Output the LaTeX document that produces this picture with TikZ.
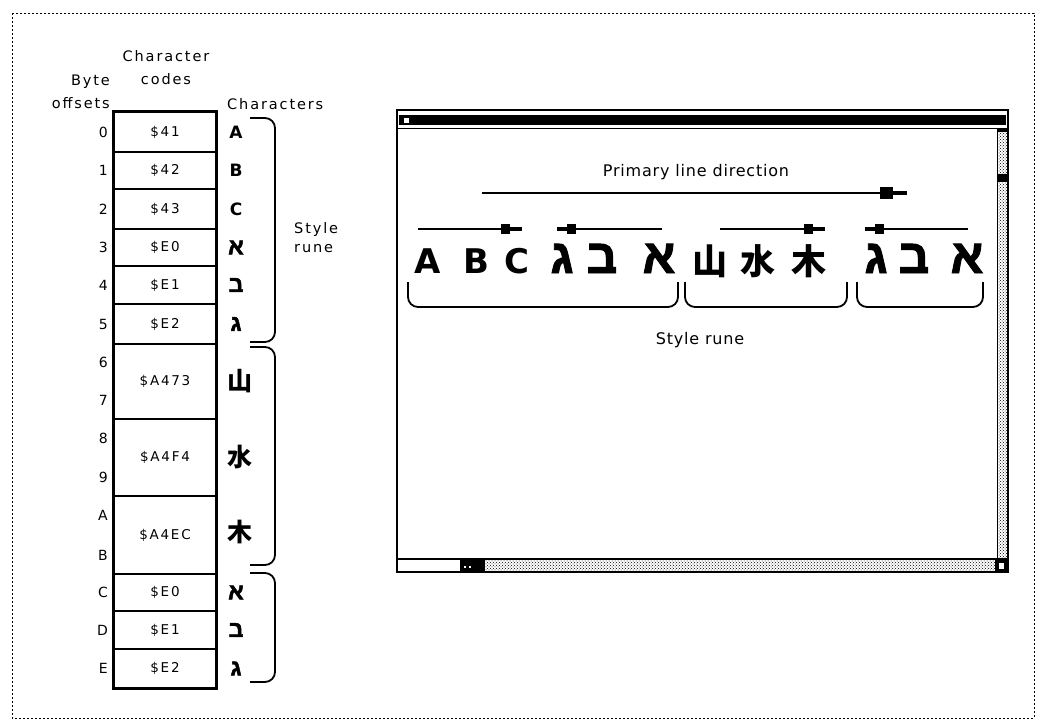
\documentclass[tikz,border=0pt]{standalone}
\usepackage{fontspec}
\setmainfont{DejaVu Sans}[LetterSpace=5]
\newfontfamily\widesans{DejaVu Sans}[LetterSpace=13]
\newfontfamily\plainsans{DejaVu Sans}
\newfontfamily\heb{Liberation Sans Bold}[Script=Hebrew, FakeBold=2]
\newfontfamily\cjk{Noto Sans CJK SC}
\usetikzlibrary{arrows.meta,patterns}
\tikzset{
  cell/.style={draw, line width=1.4pt, minimum width=102pt, inner sep=0pt, font=\widesans\fontsize{13.5}{15}\selectfont},
  offs/.style={anchor=east, inner sep=0pt, font=\widesans\fontsize{14}{16}\selectfont},
  lbl/.style={inner sep=0pt, font=\widesans\fontsize{14.5}{23}\selectfont},
  chlat/.style={inner sep=0pt, font=\plainsans\bfseries\fontsize{17}{17}\selectfont},
  chheb/.style={inner sep=0pt, font=\heb\fontsize{23}{23}\selectfont},
  chcjk/.style={inner sep=0pt, font=\cjk\bfseries\fontsize{25}{25}\selectfont},
  biglat/.style={anchor=base, inner sep=0pt, font=\plainsans\bfseries\fontsize{34}{34}\selectfont},
  bigheb/.style={anchor=base, inner sep=0pt, font=\heb\fontsize{48}{48}\selectfont},
  bigcjk/.style={anchor=base, inner sep=0pt, font=\cjk\bfseries\fontsize{35}{35}\selectfont},
  winlbl/.style={inner sep=0pt, font=\fontsize{16}{18}\selectfont},
  bracket/.style={line width=1.8pt, rounded corners=10pt},
  rarrow/.style={line width=1.8pt, -{Rectangle[length=9pt,width=10pt,sep=0pt]Rectangle[length=12pt,width=4pt,sep=0pt]}},
  larrow/.style={line width=1.8pt, {Rectangle[length=10pt,width=4pt,sep=0pt]Rectangle[length=9pt,width=10pt,sep=0pt]}-},
  longarrow/.style={line width=1.8pt, -{Rectangle[length=13pt,width=12pt,sep=0pt]Rectangle[length=14pt,width=4pt,sep=0pt]}},
}
\begin{document}
\begin{tikzpicture}[x=1pt,y=-1pt]
\useasboundingbox (0,0) rectangle (1037,720);
% outer dashed frame
\draw[line width=1pt, dash pattern=on 2pt off 2pt] (12,13) rectangle (1034,718);

% headers
\node[lbl, align=center] (hcodes) at (166,68) {Character\\codes};
\node[lbl, align=right, anchor=east] (hoffs) at (110,92) {Byte\\offsets};
\node[lbl, anchor=west] (hchars) at (227,104) {Characters};

% table cells
\node[cell, minimum height=40pt] (r0) at (165,132) {\$41};
\node[cell, minimum height=37pt] (r1) at (165,170.5) {\$42};
\node[cell, minimum height=40pt] (r2) at (165,209) {\$43};
\node[cell, minimum height=37pt] (r3) at (165,247.5) {\$E0};
\node[cell, minimum height=38pt] (r4) at (165,285) {\$E1};
\node[cell, minimum height=40pt] (r5) at (165,324) {\$E2};
\node[cell, minimum height=75pt] (r6) at (165,381.5) {\$A473};
\node[cell, minimum height=77pt] (r8) at (165,457.5) {\$A4F4};
\node[cell, minimum height=78pt] (rA) at (165,535) {\$A4EC};
\node[cell, minimum height=37pt] (rC) at (165,592.5) {\$E0};
\node[cell, minimum height=38pt] (rD) at (165,630) {\$E1};
\node[cell, minimum height=39pt] (rE) at (165,668.5) {\$E2};
\draw[line width=2pt] (r0.north west) rectangle (rE.south east);
\draw[line width=3.5pt] ([xshift=-1pt]r0.north west) -- ([xshift=1pt]r0.north east);

% byte offsets
\node[offs] (o0) at (108,132) {0};
\node[offs] (o1) at (108,170.5) {1};
\node[offs] (o2) at (108,209) {2};
\node[offs] (o3) at (108,247.5) {3};
\node[offs] (o4) at (108,285) {4};
\node[offs] (o5) at (108,324) {5};
\node[offs] (o6) at (108,362) {6};
\node[offs] (o7) at (108,400) {7};
\node[offs] (o8) at (108,438) {8};
\node[offs] (o9) at (108,477) {9};
\node[offs] (oA) at (108,515) {A};
\node[offs] (oB) at (108,555) {B};
\node[offs] (oC) at (108,592.5) {C};
\node[offs] (oD) at (108,630) {D};
\node[offs] (oE) at (108,668.5) {E};

% characters column
\node[chlat] (k0) at (236,132) {A};
\node[chlat] (k1) at (236,170.5) {B};
\node[chlat] (k2) at (236,209) {C};
\node[chheb] (k3) at (236,247.5) {א};
\node[chheb] (k4) at (236,285) {ב};
\node[chheb] (k5) at (236,324) {ג};
\node[chcjk] (k6) at (240,381) {山};
\node[chcjk] (k8) at (240,457) {水};
\node[chcjk] (kA) at (240,532) {木};
\node[chheb] (kC) at (236,592.5) {א};
\node[chheb] (kD) at (236,630) {ב};
\node[chheb] (kE) at (236,668.5) {ג};

% left brackets
\draw[bracket] (250,118) -- (275,118) -- (275,342) -- (250,342);
\draw[bracket] (250,347) -- (275,347) -- (275,565) -- (250,565);
\draw[bracket] (250,573) -- (275,573) -- (275,682) -- (250,682);
\node[lbl, align=left, anchor=west, font=\widesans\fontsize{14.5}{19}\selectfont] (srune1) at (294,238) {Style\\rune};

% window
\fill[white] (397,110) rectangle (1008,572);
\fill (399,115) rectangle (1006,125);
\draw[line width=1pt] (397,128) -- (1008,128);
\draw[fill=white, line width=0.8pt] (403,117) rectangle (409,123);
% vertical scroll bar
\draw[line width=1pt, pattern=crosshatch dots] (997,128) rectangle (1008,559);
\fill (997,174) rectangle (1008,182);
\fill (997,128) rectangle (1008,132);
% horizontal scroll bar
\draw[line width=1.4pt] (397,559) -- (1008,559);
\fill (460,559) rectangle (484,572);
\fill[white] (464,566) rectangle (466,568);
\fill[white] (469,566) rectangle (471,568);
\draw[line width=1pt, pattern=crosshatch dots] (484,559) rectangle (995,572);
\fill (995,559) rectangle (1008,572);
\fill[white] (999,563) rectangle (1004,569);
\draw[line width=2.2pt] (397,110) rectangle (1008,572);

% window contents
\node[winlbl] (primary) at (696,172) {Primary line direction};
\coordinate (pa1) at (482,193);
\coordinate (pa2) at (907,193);
\draw[longarrow] (pa1) -- (pa2);

\coordinate (a1s) at (418,229); \coordinate (a1e) at (522,229);
\coordinate (a2s) at (557,229); \coordinate (a2e) at (662,229);
\coordinate (a3s) at (720,229); \coordinate (a3e) at (825,229);
\coordinate (a4s) at (865,229); \coordinate (a4e) at (968,229);
\draw[rarrow] (a1s) -- (a1e);
\draw[larrow] (a2s) -- (a2e);
\draw[rarrow] (a3s) -- (a3e);
\draw[larrow] (a4s) -- (a4e);

\node[biglat] (gA) at (428,273) {A};
\node[biglat] (gB) at (476,273) {B};
\node[biglat] (gC) at (517,273) {C};
\node[bigheb] (gGi1) at (562,273) {ג};
\node[bigheb] (gBe1) at (602,273) {ב};
\node[bigheb] (gAl1) at (659,273) {א};
\node[bigcjk] (gS) at (710,274) {山};
\node[bigcjk] (gW) at (758,274) {水};
\node[bigcjk] (gM) at (809,274) {木};
\node[bigheb] (gGi2) at (876,273) {ג};
\node[bigheb] (gBe2) at (914,273) {ב};
\node[bigheb] (gAl2) at (967,273) {א};

\draw[bracket] (408,282) -- (408,307) -- (678,307) -- (678,282);
\draw[bracket] (685,282) -- (685,307) -- (847,307) -- (847,282);
\draw[bracket] (857,282) -- (857,307) -- (983,307) -- (983,282);
\node[winlbl] (srune2) at (700,340) {Style rune};
\end{tikzpicture}
\end{document}
